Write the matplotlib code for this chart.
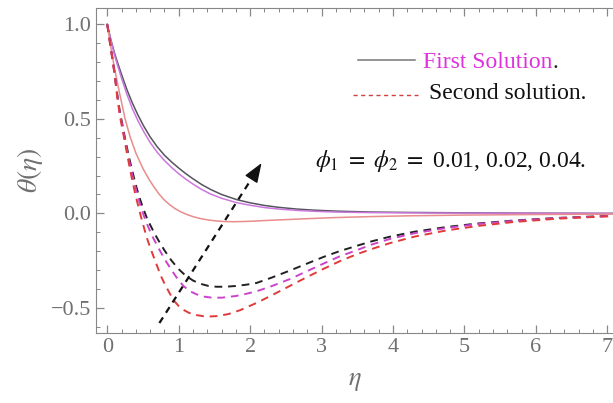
import matplotlib
matplotlib.use("Agg")
from matplotlib import pyplot as plt
from matplotlib.ticker import MultipleLocator

plt.rcParams['font.family'] = ['Liberation Serif', 'DejaVu Serif']
plt.rcParams['mathtext.fontset'] = 'stix'

# first solution (solid)
eta_s1 = [0, 0.05, 0.1, 0.135, 0.2, 0.275, 0.35, 0.43, 0.51, 0.6, 0.7, 0.8, 0.9, 1.0, 1.1, 1.2, 1.32, 1.45,
          1.6, 1.81, 2.0, 2.2, 2.4, 2.65, 2.9, 3.2, 3.7, 4.2, 5.0, 6.0, 7.1]
th_s1 = [1.0, 0.92, 0.85, 0.808, 0.735, 0.655, 0.585, 0.52, 0.462, 0.405, 0.352, 0.308, 0.272, 0.24, 0.21,
         0.183, 0.153, 0.126, 0.1, 0.073, 0.056, 0.042, 0.032, 0.023, 0.017, 0.012, 0.007, 0.005, 0.003,
         0.001, 0.0]
eta_s2 = [0, 0.05, 0.1, 0.135, 0.2, 0.275, 0.35, 0.43, 0.51, 0.6, 0.7, 0.8, 0.9, 1.0, 1.1, 1.2, 1.32, 1.45,
          1.6, 1.81, 2.0, 2.2, 2.4, 2.65, 2.9, 3.2, 3.7, 4.5, 5.5, 7.1]
th_s2 = [1.0, 0.915, 0.84, 0.795, 0.715, 0.63, 0.555, 0.49, 0.433, 0.375, 0.323, 0.28, 0.243, 0.21, 0.181,
         0.155, 0.127, 0.102, 0.08, 0.057, 0.043, 0.031, 0.023, 0.016, 0.011, 0.007, 0.004, 0.002, 0.001, 0.0]
eta_s3 = [0, 0.05, 0.1, 0.17, 0.25, 0.32, 0.4, 0.5, 0.58, 0.65, 0.72, 0.79, 0.87, 0.95, 1.03, 1.11, 1.2, 1.3,
          1.4, 1.5, 1.63, 1.78, 1.9, 2.05, 2.19, 2.5, 2.8, 3.2, 3.68, 4.2, 5.0, 6.0, 7.1]
th_s3 = [1.0, 0.88, 0.77, 0.64, 0.5, 0.405, 0.32, 0.237, 0.183, 0.142, 0.105, 0.074, 0.047, 0.025, 0.008,
         -0.005, -0.017, -0.027, -0.034, -0.039, -0.043, -0.044, -0.043, -0.041, -0.038, -0.033, -0.028,
         -0.022, -0.017, -0.013, -0.009, -0.006, -0.004]

# second solution (dashed)
eta_d1 = [0, 0.05, 0.1, 0.14, 0.18, 0.22, 0.25, 0.3, 0.35, 0.4, 0.45, 0.5, 0.55, 0.6, 0.66, 0.72, 0.8, 0.9,
          1.0, 1.1, 1.2, 1.3, 1.42, 1.53, 1.65, 1.8, 1.95, 2.09, 2.3, 2.56, 2.8, 3.03, 3.25, 3.49, 3.7, 3.96,
          4.3, 4.75, 5.2, 5.68, 6.3, 7.1]
th_d1 = [1.0, 0.875, 0.75, 0.63, 0.53, 0.455, 0.395, 0.305, 0.225, 0.15, 0.085, 0.03, -0.02, -0.06, -0.105,
         -0.145, -0.195, -0.25, -0.295, -0.33, -0.355, -0.372, -0.384, -0.388, -0.388, -0.384, -0.377, -0.368,
         -0.34, -0.302, -0.265, -0.23, -0.2, -0.172, -0.148, -0.123, -0.097, -0.072, -0.053, -0.038, -0.024,
         -0.012]
eta_d2 = [0, 0.05, 0.1, 0.14, 0.18, 0.22, 0.25, 0.3, 0.35, 0.4, 0.45, 0.5, 0.55, 0.6, 0.65, 0.72, 0.8, 0.9,
          1.0, 1.07, 1.15, 1.25, 1.35, 1.45, 1.6, 1.8, 1.95, 2.09, 2.3, 2.56, 2.8, 3.03, 3.25, 3.49, 3.7, 3.96,
          4.3, 4.75, 5.2, 5.68, 6.3, 7.1]
th_d2 = [1.0, 0.875, 0.75, 0.625, 0.52, 0.445, 0.385, 0.29, 0.205, 0.13, 0.06, 0.0, -0.05, -0.095, -0.135,
         -0.185, -0.24, -0.3, -0.355, -0.385, -0.41, -0.428, -0.44, -0.445, -0.446, -0.437, -0.425, -0.412,
         -0.385, -0.347, -0.305, -0.265, -0.228, -0.195, -0.165, -0.135, -0.105, -0.077, -0.056, -0.04,
         -0.025, -0.013]
eta_d3 = [0, 0.05, 0.1, 0.14, 0.18, 0.22, 0.25, 0.3, 0.35, 0.4, 0.46, 0.51, 0.555, 0.6, 0.65, 0.69, 0.75, 0.8,
          0.87, 0.93, 1.0, 1.08, 1.15, 1.25, 1.35, 1.45, 1.55, 1.7, 1.86, 2.1, 2.33, 2.56, 2.79, 3.03, 3.26,
          3.5, 3.73, 3.96, 4.3, 4.75, 5.2, 5.68, 6.3, 7.1]
th_d3 = [1.0, 0.87, 0.74, 0.615, 0.51, 0.43, 0.37, 0.27, 0.175, 0.09, 0.0, -0.07, -0.13, -0.18, -0.23, -0.27,
         -0.33, -0.37, -0.42, -0.46, -0.49, -0.513, -0.527, -0.538, -0.544, -0.545, -0.543, -0.532, -0.512,
         -0.472, -0.428, -0.383, -0.338, -0.293, -0.252, -0.215, -0.185, -0.157, -0.123, -0.09, -0.066,
         -0.046, -0.028, -0.014]

solid_colors = ['#555560', '#cc77dd', '#e88c8c']
dash_colors = ['#222222', '#cc44cc', '#e03a3a']

# arrow showing increasing phi (data coords: tail, tip)
arrow_tail = (0.73, -0.58)
arrow_tip = (2.16, 0.266)

fig = plt.figure(figsize=(6.13, 4.03), dpi=100)
ax = fig.add_axes([0.157, 0.174, 0.843, 0.806])

for e, t, c in zip([eta_s1, eta_s2, eta_s3], [th_s1, th_s2, th_s3], solid_colors):
    ax.plot(e, t, color=c, lw=1.1)
for e, t, c in zip([eta_d1, eta_d2, eta_d3], [th_d1, th_d2, th_d3], dash_colors):
    ax.plot(e, t, color=c, lw=1.4, dashes=(4, 3))

# dashed arrow
fx = arrow_tail[0] + 0.92 * (arrow_tip[0] - arrow_tail[0])
fy = arrow_tail[1] + 0.92 * (arrow_tip[1] - arrow_tail[1])
ax.plot([arrow_tail[0], fx], [arrow_tail[1], fy], color='#111111', lw=1.6, dashes=(3, 2.5))
ax.annotate('', xy=arrow_tip, xytext=(fx, fy),
            arrowprops=dict(arrowstyle='-|>,head_length=1.2,head_width=0.45',
                            color='#111111', lw=1.0, shrinkA=0, shrinkB=0))

ax.set_xlim(-0.154, 7.08)
ax.set_ylim(-0.632, 1.086)
ax.set_xticks([0, 1, 2, 3, 4, 5, 6, 7])
ax.set_yticks([-0.5, 0.0, 0.5, 1.0])
ax.set_yticklabels(['\u22120.5', '0.0', '0.5', '1.0'])
ax.xaxis.set_minor_locator(MultipleLocator(0.2))
ax.yaxis.set_minor_locator(MultipleLocator(0.1))
ax.tick_params(which='both', direction='in', top=True, right=False, colors='#888888',
               labelcolor='#707070', labelsize=16)
ax.tick_params(which='major', length=6, width=0.9)
ax.tick_params(which='minor', length=3, width=0.7)
for side in ['left', 'bottom', 'top']:
    ax.spines[side].set_color('#888888')
ax.spines['right'].set_visible(False)

ax.set_xlabel(r'$\eta$', fontsize=19, color='#707070', labelpad=10)
ax.set_ylabel(r'$\theta(\eta)$', fontsize=20, color='#707070', labelpad=4)

# legend drawn by hand, Mathematica style
ax.plot([0.507, 0.617], [0.841, 0.841], transform=ax.transAxes, color='#777777', lw=1.1)
ax.plot([0.497, 0.623], [0.733, 0.733], transform=ax.transAxes, color='#d04040', lw=1.0, dashes=(3, 2.5))
t1 = ax.text(0.632, 0.816, 'First Solution', transform=ax.transAxes, fontsize=17,
             color='#dd33dd', va='baseline')
ax.annotate('.', xy=(1, 0), xycoords=t1, va='bottom', fontsize=17, color='#222222')
ax.text(0.644, 0.72, 'Second solution.', transform=ax.transAxes, fontsize=17,
        color='#111111', va='baseline')
ax.text(0.424, 0.512, r'$\phi_1\ =\ \phi_2\ =$ 0.01, 0.02, 0.04.', transform=ax.transAxes,
        fontsize=17, color='#111111', va='baseline')

fig.savefig('out.png', dpi=100)
